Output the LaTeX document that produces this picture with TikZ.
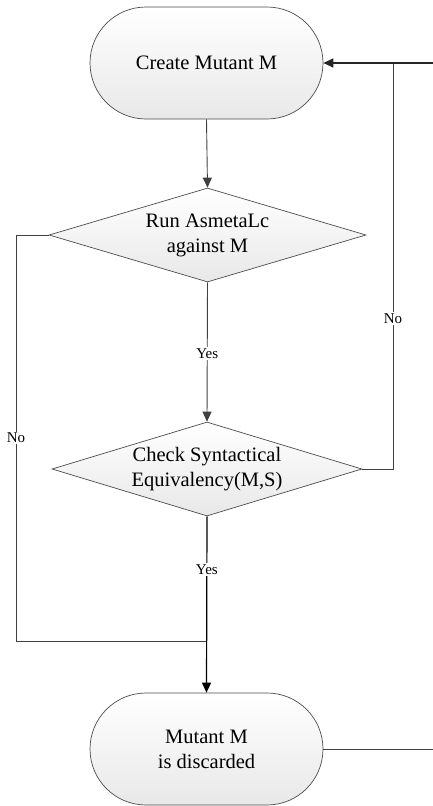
\documentclass[tikz,border=0pt]{standalone}
\usepackage{fontspec}
\setmainfont{Liberation Serif}
\usetikzlibrary{shapes.geometric,shapes.misc,arrows.meta}
\begin{document}
\begin{tikzpicture}[x=1pt,y=-1pt,
  term/.style={rounded rectangle, draw=black!70, line width=0.7pt, top color=white, bottom color=black!9,
    minimum width=233pt, minimum height=112pt, inner sep=0pt, align=center,
    font=\fontsize{20.5}{25}\selectfont},
  dia/.style={diamond, draw=black!70, line width=0.7pt, top color=white, bottom color=black!9, inner sep=0pt},
  diatext/.style={align=center, font=\fontsize{20.5}{25}\selectfont},
  conn/.style={draw=black!75, line width=0.9pt},
  arr/.style={conn, -{Triangle[length=10pt,width=9pt]}},
  lbl/.style={fill=white, inner sep=1.5pt, font=\fontsize{15}{17}\selectfont}]
\useasboundingbox (0,0) rectangle (433,806);
\node[term] (t1) at (206.5,63) {Create Mutant M};
\node[dia, minimum width=317pt, minimum height=94pt] (d1) at (207.5,235) {};
\node[diatext] (d1t) at (d1) {Run AsmetaLc\\against M};
\node[dia, minimum width=310pt, minimum height=94pt] (d2) at (207,469) {};
\node[diatext] (d2t) at (d2) {Check Syntactical\\Equivalency(M,S)};
\node[term] (t2) at (206.5,749) {Mutant M\\is discarded};
\coordinate (ltop) at (16,235);
\coordinate (lbot) at (16,641);
\coordinate (join) at (207,641);
\coordinate (rbot) at (393,469);
\coordinate (rtop) at (393,63);
\coordinate (rin) at (433,63);
\coordinate (rout) at (433,749);
\draw[arr] (t1.south) -- (d1.north);
\draw[arr] (d1.south) -- node[lbl, pos=0.51] (y1) {Yes} (d2.north);
\draw[conn] (d1.west) -- (ltop) -- node[lbl, pos=0.5] (n1) {No} (lbot) -- (join);
\draw[arr, line width=1.2pt, draw=black] (d2.south) -- node[lbl, pos=0.3] (y2) {Yes} (t2.north);
\draw[conn] (d2.east) -- (rbot) -- node[lbl, pos=0.37] (n2) {No} (rtop);
\draw[arr, line width=1.2pt, draw=black!85] (rin) -- (t1.east);
\draw[conn] (t2.east) -- (rout);
\end{tikzpicture}
\end{document}
